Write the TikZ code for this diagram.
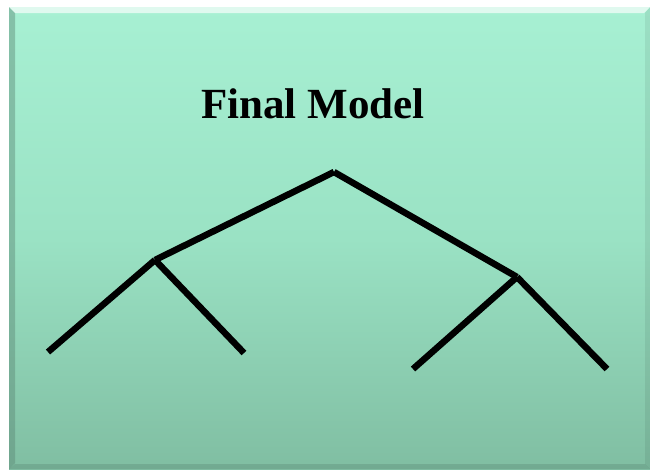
\documentclass[tikz,border=0pt]{standalone}
\usepackage{fontspec}
\setmainfont{Liberation Serif}
\begin{document}
\begin{tikzpicture}[x=1pt,y=-1pt,
  branch/.style={line width=6.5pt,line cap=butt,draw=black},
  title/.style={font=\bfseries\fontsize{43}{50}\selectfont,inner sep=0pt}]
\definecolor{panelTop}{RGB}{167,240,211}
\definecolor{panelMid}{RGB}{154,226,196}
\definecolor{panelBot}{RGB}{128,190,162}
\useasboundingbox (0,0) rectangle (650,469);
\fill[white] (0,0) rectangle (650,469);
% panel with vertical gradient
\shade[top color=panelTop,bottom color=panelBot,middle color=panelMid]
  (9,7) rectangle (650,469);
% bevel edges
\fill[white,opacity=0.65] (9,7) -- (650,7) -- (644,13) -- (15,13) -- cycle;
\fill[black!40!panelMid,opacity=0.45] (9,7) -- (15,13) -- (15,463) -- (9,469) -- cycle;
\fill[black,opacity=0.07] (650,7) -- (650,469) -- (645,464) -- (645,13) -- cycle;
\fill[black,opacity=0.10] (9,469) -- (650,469) -- (645,464) -- (15,464) -- cycle;
% title
\node[title] (ttl) at (313,104) {Final Model};
% tree points
\coordinate (root) at (334,172);
\coordinate (l) at (155,260);
\coordinate (r) at (517,277);
\coordinate (ll) at (48,352);
\coordinate (lr) at (244,353);
\coordinate (rl) at (413,369);
\coordinate (rr) at (607,369);
% branches
\draw[branch] (root) -- (l);
\draw[branch] (root) -- (r);
\draw[branch] (l) -- (ll);
\draw[branch] (l) -- (lr);
\draw[branch] (r) -- (rl);
\draw[branch] (r) -- (rr);
\end{tikzpicture}
\end{document}
